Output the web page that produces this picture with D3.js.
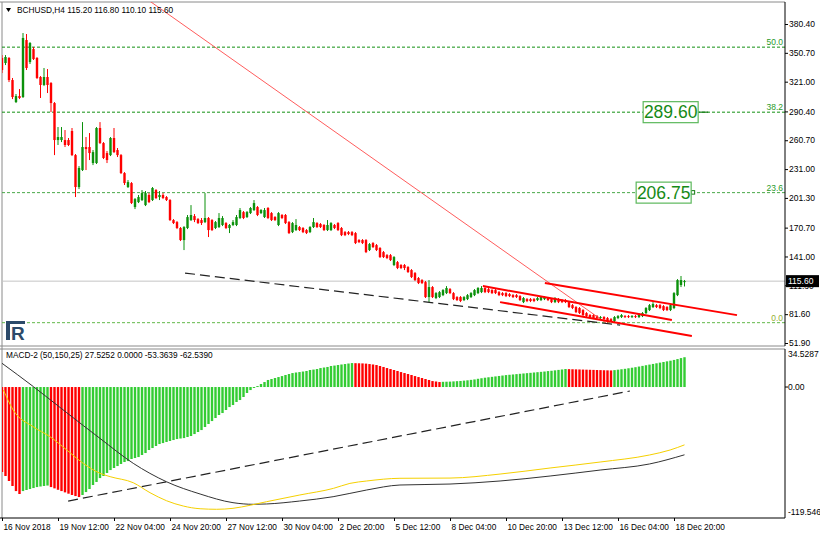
<!DOCTYPE html>
<html><head><meta charset="utf-8">
<script src="https://cdn.jsdelivr.net/npm/d3@7"></script>
<style>body{margin:0;background:#fff}svg{display:block}text{font-family:'Liberation Sans',Arial,sans-serif}</style>
</head><body><svg id="c" width="820" height="536"></svg>
<script>
const opens=[345.4,340.2,345.4,322.7,300.0,306.2,305.2,363.9,341.2,354.6,
345.4,325.8,317.6,325.8,319.6,299.0,260.9,260.9,260.9,260.9,
270.2,245.4,212.5,230.0,253.7,253.7,237.2,237.2,273.3,257.8,
247.5,245.4,263.0,250.6,245.4,226.9,212.5,216.6,191.9,197.0,
199.1,193.9,204.3,199.1,209.4,202.2,204.3,202.2,199.1,178.5,
176.4,170.3,157.9,170.3,178.5,182.6,179.5,178.5,176.4,180.6,
178.5,170.3,171.3,173.4,175.4,170.3,173.4,173.4,180.6,186.7,
181.6,185.7,188.8,191.9,185.7,181.6,190.9,185.7,181.6,173.4,
183.7,183.7,176.4,166.1,168.2,171.3,170.3,168.2,166.1,171.3,
175.4,174.4,173.4,168.2,168.2,173.4,175.4,170.3,166.1,166.1,
166.1,165.1,157.9,157.9,157.9,147.6,154.8,152.7,149.7,145.5,
142.4,142.4,132.2,135.2,132.2,132.2,130.1,127.0,123.9,118.8,
116.7,114.6,99.2,109.5,98.2,99.2,101.2,103.3,107.4,103.3,
99.2,99.2,96.1,97.1,99.2,101.2,103.3,104.3,108.5,107.4,
106.4,106.4,104.3,103.3,103.3,102.3,101.2,101.2,100.2,94.0,
97.1,97.1,97.1,96.1,96.1,97.1,98.2,97.1,94.0,97.1,
96.1,96.1,94.0,90.9,88.9,87.9,85.8,82.7,80.7,80.7,
79.6,77.6,78.6,77.6,76.5,74.5,77.6,78.6,79.6,79.6,
78.6,79.6,78.6,79.6,82.7,85.8,88.9,90.9,90.9,89.9,
88.9,85.8,87.9,101.2,111.6,115.2];
const highs=[348.4,348.4,346.4,324.8,308.3,313.4,371.1,370.1,361.8,356.7,
346.4,326.8,335.1,334.0,320.6,300.0,274.3,274.3,271.2,263.0,
273.3,246.5,234.1,279.4,264.0,268.1,250.6,274.3,279.4,258.8,
249.6,264.0,273.3,252.7,246.5,227.9,219.7,217.6,201.2,204.3,
209.4,208.4,206.3,212.5,210.4,208.4,206.3,203.2,200.1,179.5,
177.5,171.3,172.3,183.7,193.9,184.7,180.6,180.6,206.3,181.6,
179.5,177.5,185.7,182.6,176.4,174.4,178.5,183.7,190.9,187.8,
187.8,191.9,199.1,192.9,189.8,190.9,191.9,186.7,182.6,186.7,
184.7,184.7,177.5,176.4,179.5,172.3,171.3,169.2,172.3,180.6,
176.4,175.4,174.4,178.5,176.4,174.4,176.4,171.3,167.2,167.2,
167.2,166.1,158.9,158.9,158.9,154.8,155.8,153.8,150.7,146.6,
143.5,143.5,141.4,136.3,133.2,133.2,131.1,128.0,125.0,119.8,
117.7,115.7,116.7,110.5,104.3,105.4,107.4,110.5,108.5,104.3,
100.2,100.2,100.2,102.3,104.3,107.4,109.5,110.5,109.5,108.5,
107.4,107.4,105.4,104.3,104.3,103.3,102.3,102.3,101.2,99.2,
98.2,98.2,98.2,99.2,100.2,100.2,99.2,98.2,99.2,98.2,
97.1,97.1,95.1,92.0,89.9,88.9,86.8,83.7,81.7,81.7,
80.7,79.6,79.6,78.6,77.6,79.6,80.7,81.7,80.7,80.7,
80.7,80.7,82.7,83.7,88.9,92.0,94.0,92.0,92.0,90.9,
89.9,92.0,104.3,117.7,120.9,116.8];
const lows=[329.9,338.1,320.6,303.1,299.0,303.1,304.2,333.0,339.2,343.3,
323.7,304.2,316.5,309.3,289.7,245.4,255.8,258.8,253.7,254.7,
244.4,202.2,210.4,229.0,230.0,240.3,235.1,236.2,256.8,241.3,
237.2,244.4,247.5,243.4,225.9,214.6,211.5,195.0,189.8,196.0,
198.1,192.9,196.0,198.1,200.1,199.1,200.1,198.1,177.5,174.4,
169.2,156.9,147.6,169.2,177.5,176.4,174.4,173.4,175.4,161.0,
167.2,169.2,170.3,172.3,169.2,165.1,172.3,172.3,179.5,179.5,
180.6,184.7,187.8,182.6,184.7,180.6,179.5,177.5,177.5,172.3,
179.5,174.4,164.1,165.1,167.2,167.2,165.1,164.1,165.1,170.3,
170.3,170.3,167.2,167.2,167.2,169.2,167.2,162.0,162.0,163.0,
162.0,153.8,154.8,153.8,144.5,146.6,149.7,146.6,139.4,139.4,
138.3,136.3,131.1,128.0,128.0,127.0,124.0,118.8,115.7,112.6,
112.6,98.2,94.0,98.2,97.1,98.2,100.2,102.3,102.3,96.1,
95.1,94.0,95.1,96.1,98.2,100.2,102.3,103.3,103.3,103.3,
102.3,102.3,100.2,100.2,99.2,99.2,98.2,98.2,95.1,93.0,
94.0,94.0,94.0,95.1,95.1,96.1,95.1,93.0,93.0,93.0,
93.0,93.0,87.9,86.8,82.7,81.7,79.6,78.6,77.6,76.5,
76.5,76.5,75.5,72.9,73.4,73.4,76.5,77.6,77.6,77.6,
77.6,77.6,77.6,78.6,81.7,84.8,87.9,87.9,86.8,84.8,
84.8,84.8,86.8,100.2,109.5,110.1];
const closes=[333.0,346.4,322.7,305.2,306.2,304.2,366.0,335.1,360.8,344.3,
324.8,317.6,325.8,317.6,299.0,260.9,264.0,264.0,255.8,255.8,
245.4,212.5,232.1,253.7,251.6,247.5,248.5,273.3,257.8,242.4,
240.3,263.0,248.5,245.4,226.9,216.6,217.6,196.0,200.1,202.2,
206.3,206.3,197.0,211.5,201.2,204.3,201.2,199.1,178.5,175.4,
170.3,157.9,171.3,181.6,183.7,178.5,175.4,175.4,180.6,168.2,
168.2,176.4,180.6,180.6,170.3,173.4,176.4,181.6,188.8,180.6,
186.7,190.9,196.0,183.7,188.8,188.8,180.6,178.5,178.5,185.7,
180.6,175.4,165.1,175.4,173.4,168.2,166.1,165.1,171.3,176.4,
171.3,171.3,168.2,173.4,175.4,170.3,168.2,163.0,163.0,164.1,
163.0,154.8,155.8,154.8,145.5,153.8,150.7,147.6,140.4,140.4,
139.4,137.3,140.4,129.1,129.1,129.1,125.0,119.8,116.7,113.6,
113.6,99.2,109.5,99.2,103.3,104.3,106.4,108.5,103.3,97.1,
96.1,95.1,99.2,101.2,103.3,106.4,108.5,108.5,104.3,104.3,
103.3,103.3,101.2,101.2,100.2,100.2,99.2,99.2,96.1,98.2,
95.1,95.1,95.1,98.2,99.2,99.2,96.1,94.0,98.2,94.0,
94.0,94.0,88.9,87.9,83.7,82.7,80.7,79.6,78.6,77.6,
77.6,78.6,76.5,74.5,74.5,78.6,79.6,80.7,78.6,78.6,
79.6,78.6,81.7,82.7,87.9,90.9,92.0,88.9,87.9,85.8,
85.8,90.9,103.3,116.7,116.7,115.6];

const priceTicks=[380.40,350.70,321.00,290.40,260.70,231.00,201.30,170.70,141.00,111.30,81.60,51.90];
const xTickIdx=[0,16,32,48,64,80,96,112,128,144,160,176,192];
const xTickLabels=["16 Nov 2018","19 Nov 12:00","22 Nov 04:00","24 Nov 20:00","27 Nov 12:00","30 Nov 04:00","2 Dec 20:00","5 Dec 12:00","8 Dec 04:00","10 Dec 20:00","13 Dec 12:00","16 Dec 04:00","18 Dec 20:00"];
const fibLevels=[356.56,289.60,206.75,72.83];
const fibLabels=["50.0","38.2","23.6","0.0"];
const lastPrice=115.60;
const priceBoxes=[{price:289.60,rightIdx:198.9,mark:"line"},{price:206.75,rightIdx:196.9,mark:"square"}];

const hist=[-78.4,-82.1,-86.7,-91.3,-96.0,-98.7,
-96.0,-95.0,-94.1,-93.2,-92.3,-91.8,-91.3,-90.9,
-92.3,-93.5,-94.8,-96.0,-97.2,-98.4,-99.6,-100.6,-101.5,
-99.6,-96.9,-94.1,-90.4,-87.6,-84.0,-82.1,-79.3,-76.6,-74.7,
-72.9,-71.0,-69.2,-68.3,-66.4,-65.5,-64.6,-62.7,-60.9,-58.1,
-56.3,-54.4,-52.6,-51.7,-50.7,-49.8,-48.9,-48.0,-47.5,-47.1,
-46.1,-45.2,-43.4,-41.5,-39.7,-36.9,-34.1,-31.4,-28.6,-25.8,
-24.0,-21.2,-18.5,-16.6,-13.8,-12.0,-9.2,-5.5,-2.8,-0.9,
0.9,2.8,4.6,6.5,7.4,8.3,9.2,10.1,11.1,12.0,
12.9,13.4,13.8,14.3,14.8,15.7,16.1,16.6,17.5,18.0,
18.5,19.4,19.8,20.3,20.8,21.2,21.7,22.1,
22.0,21.9,21.8,21.6,21.2,20.8,20.3,19.4,18.5,17.5,
16.6,15.7,14.8,13.8,12.9,12.0,11.1,10.1,9.2,8.3,
7.4,6.5,5.5,5.1,4.6,
4.8,4.9,5.0,5.2,5.4,5.6,5.9,6.2,6.6,7.0,
7.6,8.1,8.6,9.0,9.4,9.8,10.2,10.6,11.0,11.3,
11.6,11.9,12.2,12.5,12.8,13.1,13.4,13.7,14.0,14.3,
14.7,15.0,15.4,15.8,16.2,16.6,
16.5,16.4,16.3,16.2,16.1,16.0,15.9,15.8,15.7,15.6,15.5,15.4,15.3,
15.6,16.0,16.4,16.8,17.3,17.8,18.3,18.9,19.5,20.1,
20.7,21.3,21.9,22.5,23.1,23.7,24.3,25.0,25.8,26.7,27.5];

const blackIdx=[0,9,18.5,28,37.5,47,56.6,66,71.8,75.6,85,94.6,104.2,113.7,128,142.3,156.6,170.9,185,195];
const blackVals=[21.9,0.3,-23.7,-47.4,-70.4,-87.4,-98.7,-106.7,-108.2,-107.9,-105.2,-101.2,-95.0,-90.4,-89.5,-86.7,-82.1,-76.6,-71.0,-62.54];
const yellowIdx=[0.4,3.2,8.9,13.7,18.5,23.2,28,30.9,37.5,42.3,47,51.8,56.6,61.3,66,70.9,75.6,85.1,94.7,99.4,104.2,113.7,128,142.3,156.6,170.9,185,190.9,195];
const yellowVals=[-2.8,-21.2,-36.6,-45.8,-58.1,-70.4,-79.6,-82.7,-88.3,-97.5,-104.9,-109.8,-112.3,-112.8,-111.9,-109.1,-105.8,-99.6,-93.5,-88.9,-86.7,-84.2,-84.0,-80.3,-74.7,-69.2,-62.7,-58.1,-53.36];

const redTrend=[[40.9,407.3],[172.6,72.5]];
const channelLines=[[[155.1,113.6],[210.0,80.6]],[[137.4,110.5],[191.4,75.5]],[[142.3,94.0],[197.1,59.0]]];
const dashedMain=[[52.3,123.9],[176.6,70.3]];
const dashedMacd=[[18.9,-105.2],[179.4,-3.7]];
const macdTicks=[34.5287,0,-119.546];
const macdTickLabels=["34.5287","0.00","-119.546"];

const svg=d3.select("#c");
const R=785, mTop=2, mBot=346, dTop=349, dBot=518;
const x=d3.scaleLinear().domain([0,224]).range([2,786]);
const yP=d3.scaleLinear().domain([51.9,380.4]).range([343,24]);
const yM=d3.scaleLinear().domain([-119.546,34.5287]).range([516.6,349.6]);
const GREEN="#0b910b", RED="#ff0000";

const defs=svg.append("defs");
defs.append("clipPath").attr("id","cm").append("rect").attr("x",2).attr("y",mTop).attr("width",R-2).attr("height",mBot-mTop);
defs.append("clipPath").attr("id","cd").append("rect").attr("x",2).attr("y",dTop).attr("width",R-2).attr("height",dBot-dTop);

// frames
const fr=svg.append("g");
fr.append("line").attr("x1",0).attr("x2",R).attr("y1",mTop).attr("y2",mTop).attr("stroke","#8a8a8a");
fr.append("line").attr("x1",0).attr("x2",R).attr("y1",mBot).attr("y2",mBot).attr("stroke","#8a8a8a");
fr.append("line").attr("x1",0).attr("x2",R).attr("y1",dTop).attr("y2",dTop).attr("stroke","#8a8a8a");
fr.append("line").attr("x1",2).attr("x2",2).attr("y1",mTop).attr("y2",dBot).attr("stroke","#8a8a8a");

// main panel
const gm=svg.append("g").attr("clip-path","url(#cm)");
const fibColors=["#129012","#129012","#4aa84a","#62b84a"];
gm.selectAll(".fib").data(fibLevels).join("line")
 .attr("x1",2).attr("x2",R).attr("y1",d=>yP(d)).attr("y2",d=>yP(d))
 .attr("stroke",(d,i)=>fibColors[i]).attr("stroke-dasharray","3,2").attr("stroke-width",1);
gm.append("line").attr("x1",2).attr("x2",R).attr("y1",yP(lastPrice)).attr("y2",yP(lastPrice)).attr("stroke","#c4c4c4");

const idx=d3.range(closes.length);
const cg=gm.append("g");
cg.selectAll(".w").data(idx).join("line")
 .attr("x1",i=>x(i)).attr("x2",i=>x(i)).attr("y1",i=>yP(highs[i])).attr("y2",i=>yP(lows[i]))
 .attr("stroke",i=>closes[i]>=opens[i]?GREEN:RED).attr("stroke-width",1);
cg.selectAll(".b").data(idx).join("rect")
 .attr("x",i=>x(i)-1.2).attr("width",2.4)
 .attr("y",i=>Math.min(yP(opens[i]),yP(closes[i])))
 .attr("height",i=>Math.max(1,Math.abs(yP(opens[i])-yP(closes[i]))))
 .attr("fill",i=>closes[i]>=opens[i]?GREEN:RED);

const ln=d3.line().x(d=>x(d[0])).y(d=>yP(d[1]));
gm.append("path").attr("d",ln(redTrend)).attr("stroke","#ff4a4a").attr("stroke-width",0.9).attr("fill","none");
gm.selectAll(".ch").data(channelLines).join("path").attr("d",d=>ln(d)).attr("stroke","#ff0000").attr("stroke-width",2).attr("fill","none");
gm.append("path").attr("d",ln(dashedMain)).attr("stroke","#222").attr("stroke-width",1.2).attr("stroke-dasharray","10,5").attr("fill","none");

// fib labels
svg.selectAll(".fl").data(fibLevels).join("text")
 .attr("x",783).attr("y",d=>yP(d)-2).attr("text-anchor","end").attr("font-size",8.5)
 .attr("fill",(d,i)=>i===3?"#94b030":"#2a9a2a").text((d,i)=>fibLabels[i]);

// price boxes
priceBoxes.forEach(b=>{
 const xr=x(b.rightIdx), yc=yP(b.price), w=55, h=21;
 if(b.mark==="line"){
   svg.append("line").attr("x1",xr).attr("x2",xr+10).attr("y1",yc).attr("y2",yc).attr("stroke","#137a13").attr("stroke-width",1.2);
 } else {
   svg.append("rect").attr("x",xr).attr("y",yc-2).attr("width",3.5).attr("height",3.5).attr("fill","#fff").attr("stroke","#137a13").attr("stroke-width",1);
 }
 svg.append("rect").attr("x",xr-w).attr("y",yc-h/2).attr("width",w).attr("height",h)
  .attr("fill","#fff").attr("stroke","#5cb85c").attr("stroke-width",1.2);
 svg.append("text").attr("x",xr-w/2).attr("y",yc+6.3).attr("text-anchor","middle")
  .attr("font-size",17.5).attr("fill","#168a16").text(b.price.toFixed(2));
});

// right axis main
const ax=svg.append("g").attr("transform",`translate(${R},0)`)
 .call(d3.axisRight(yP).tickValues(priceTicks).tickSize(3).tickPadding(1).tickFormat(d3.format(".2f")));
ax.select(".domain").remove();
ax.selectAll("text").attr("font-size",8.5).attr("fill","#000").attr("font-family","'Liberation Sans',Arial,sans-serif");
svg.append("line").attr("x1",R).attr("x2",R).attr("y1",mTop).attr("y2",mBot).attr("stroke","#000");
// last price box
svg.append("rect").attr("x",R+1).attr("y",yP(lastPrice)-6).attr("width",33).attr("height",12).attr("fill","#000");
svg.append("text").attr("x",R+3).attr("y",yP(lastPrice)+3).attr("font-size",8.5).attr("fill","#fff").text(lastPrice.toFixed(2));

// title
svg.append("path").attr("d","M6,8 L11,8 L8.5,12 Z").attr("fill","#000");
svg.append("text").attr("x",17).attr("y",12.5).attr("font-size",8.3).attr("fill","#000").text("BCHUSD,H4  115.20 116.80 110.10 115.60");

// logo
const lg=svg.append("g");
lg.append("rect").attr("x",6).attr("y",321).attr("width",4).attr("height",19).attr("fill","#2c4a6a");
lg.append("rect").attr("x",6).attr("y",321).attr("width",19).attr("height",3).attr("fill","#2c4a6a");
lg.append("text").attr("x",11).attr("y",340).attr("font-size",19).attr("font-weight","bold").attr("fill","#2c4a6a").text("R");

// MACD panel
const gd=svg.append("g").attr("clip-path","url(#cd)");
gd.selectAll(".h").data(idx).join("rect")
 .attr("x",i=>x(i)-1.2).attr("width",2.4)
 .attr("y",i=>Math.min(yM(0),yM(hist[i])))
 .attr("height",i=>Math.abs(yM(hist[i])-yM(0)))
 .attr("fill",i=>(i>0&&hist[i]>hist[i-1])?"#33cc33":"#ff0000");
const lm=d3.line().x(d=>x(d[0])).y(d=>yM(d[1])).curve(d3.curveMonotoneX);
gd.append("path").attr("d",lm(blackIdx.map((d,i)=>[d,blackVals[i]]))).attr("stroke","#333").attr("stroke-width",1).attr("fill","none");
gd.append("path").attr("d",lm(yellowIdx.map((d,i)=>[d,yellowVals[i]]))).attr("stroke","#f5d000").attr("stroke-width",1).attr("fill","none");
gd.append("path").attr("d",d3.line().x(d=>x(d[0])).y(d=>yM(d[1]))(dashedMacd)).attr("stroke","#222").attr("stroke-width",1.2).attr("stroke-dasharray","10,5").attr("fill","none");

svg.append("text").attr("x",6).attr("y",358).attr("font-size",8.3).attr("fill","#000").text("MACD-2 (50,150,25) 27.5252 0.0000 -53.3639 -62.5390");

svg.append("line").attr("x1",R).attr("x2",R).attr("y1",dTop).attr("y2",dBot).attr("stroke","#000");
const mOff=[4.3,0,-4.6];
svg.selectAll(".mt").data(macdTicks).join("text")
 .attr("x",R+3).attr("y",(d,i)=>yM(d)+mOff[i]+3).attr("font-size",8.5).attr("fill","#000").text((d,i)=>macdTickLabels[i]);
svg.append("line").attr("x1",R).attr("x2",R+3).attr("y1",yM(0)).attr("y2",yM(0)).attr("stroke","#000");

// x axis
const xa=svg.append("g").attr("transform",`translate(0,${dBot})`)
 .call(d3.axisBottom(x).tickValues(xTickIdx).tickSize(3).tickFormat((d,i)=>xTickLabels[i]));
xa.select(".domain").attr("d",`M0,0H${R}`).attr("stroke","#000");
xa.selectAll("text").attr("text-anchor","start").attr("dx",1).attr("font-size",8.3).attr("fill","#000").attr("font-family","'Liberation Sans',Arial,sans-serif");
</script></body></html>
